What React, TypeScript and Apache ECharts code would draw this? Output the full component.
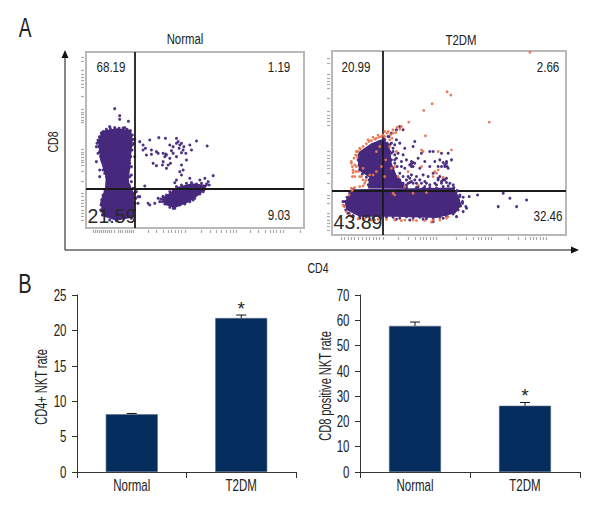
import React, { useEffect, useRef } from "react";
import * as echarts from "echarts";

const FONT = "'Liberation Sans', sans-serif";
const INK = "#222222";
const PURPLE = "#46287c";
const ORANGE = "#e8744f";
const NAVY = "#042c5c";

// Panel B values
const groups = ["Normal", "T2DM"];
const cd4Rate = [8.15, 21.75];
const cd4Err = [0.12, 0.42];
const cd4Marks = ["", "*"];
const cd4Ticks = [0, 5, 10, 15, 20, 25];
const cd8Rate = [57.8, 26.2];
const cd8Err = [1.5, 1.3];
const cd8Marks = ["", "*"];
const cd8Ticks = [0, 10, 20, 30, 40, 50, 60, 70];

// Panel A: flow cytometry channels
const normalRange = { x: [259, 912], y: [156, 684] };
const t2dmRange = { x: [67, 768], y: [94, 645] };
const normalGate = { x: 406, y: 565 };
const t2dmGate = { x: 219, y: 512 };

const normalBlobs: number[][][] = [
  [[308, 392], [350, 385], [394, 390], [399, 420], [395, 460], [391, 505], [387, 545], [403, 580], [405, 652], [350, 662], [307, 648], [303, 600], [316, 565], [318, 530], [301, 478], [295, 425]],
  [[485, 597], [510, 578], [535, 560], [575, 550], [624, 555], [602, 582], [567, 607], [525, 624], [498, 616]],
];
const normalDots: number[][] = [
  [345, 326], [360, 347], [360, 358], [386, 364], [405, 418], [420, 425], [430, 435], [437, 445], [450, 420], [477, 413], [497, 415], [530, 415], [535, 425], [545, 430], [590, 423], [622, 438],
  [455, 450], [470, 455], [490, 460], [510, 435], [520, 440], [550, 450], [558, 460], [575, 450], [570, 435], [500, 465], [495, 470], [510, 475], [460, 490], [470, 497], [490, 485], [505, 495], [500, 505],
  [545, 495], [550, 510], [540, 515], [545, 525], [530, 540], [525, 548], [570, 535], [600, 540], [615, 535], [640, 527], [625, 545], [560, 480], [520, 460], [530, 470], [445, 610], [465, 610], [475, 595],
  [435, 558], [420, 590], [415, 610], [295, 420], [290, 440], [295, 460], [290, 485], [300, 510], [300, 530], [320, 500], [390, 530], [395, 545], [375, 540], [405, 470], [402, 430], [440, 465], [455, 463],
  [430, 450], [540, 435], [552, 440], [530, 430], [538, 445], [545, 458], [515, 452], [498, 462], [475, 460], [512, 490], [488, 495], [330, 380], [375, 383], [305, 400], [300, 410], [292, 430],
  [310, 510], [315, 520], [330, 540], [340, 545], [365, 530], [375, 520], [395, 500], [410, 575], [415, 590], [305, 610], [303, 630], [490, 590], [480, 605], [450, 615], [580, 600], [610, 575], [520, 625], [540, 615],
  [310, 395], [320, 388], [332, 386], [345, 383], [358, 385], [370, 384], [382, 388], [392, 392], [398, 405], [400, 418], [398, 435], [397, 450], [393, 470], [390, 490], [388, 505],
  [305, 400], [300, 412], [296, 425], [297, 440], [300, 455], [303, 470], [307, 482], [312, 495], [316, 505], [318, 518], [320, 530], [325, 545],
  [322, 560], [316, 572], [310, 585], [306, 600], [304, 615], [305, 630], [308, 645], [400, 565], [405, 578], [408, 595], [406, 610], [404, 630], [403, 645], [395, 655], [350, 662], [330, 660],
  [380, 515], [378, 530], [384, 545], [388, 555], [395, 525], [370, 545], [360, 555],
  [483, 597], [490, 590], [500, 585], [510, 575], [520, 570], [530, 560], [545, 555], [560, 550], [575, 548], [590, 552], [605, 550], [620, 552], [628, 555], [612, 570], [600, 582], [585, 595], [570, 605], [555, 612], [525, 625], [510, 622], [495, 612], [488, 605],
];
const normalTicksX = [280, 286, 292, 298, 304, 310, 316, 322, 328, 334, 345, 355, 362, 369, 376, 383, 390, 396, 402, 445, 470, 490, 505, 515, 525, 535, 545, 555, 605, 630, 650, 665, 680, 690, 700, 710, 750, 775, 795, 810, 820, 830, 840, 850, 900];
const normalTicksY = [172, 185, 212, 222, 232, 242, 252, 262, 290, 328, 336, 344, 352, 360, 368, 448, 456, 464, 472, 480, 488, 496, 515, 545, 580, 590, 600, 610, 620, 630, 640, 650, 660];

const t2dmBand: number[][] = [[130, 508], [432, 503], [447, 530], [455, 555], [437, 580], [380, 594], [250, 590], [150, 590], [110, 570], [105, 545]];
const t2dmUpper: number[][] = [[148, 396], [185, 370], [222, 356], [240, 385], [246, 430], [262, 470], [295, 506], [175, 506], [178, 472], [148, 452], [144, 420]];
const t2dmPurpleDots: number[][] = [
  [270, 320], [280, 330], [315, 365], [310, 380], [285, 385], [270, 370], [260, 360], [250, 385], [265, 400], [280, 405], [290, 420], [305, 425], [315, 430], [310, 440], [325, 415], [335, 400],
  [360, 395], [370, 395], [395, 400], [415, 400], [425, 420], [405, 435], [415, 445], [390, 420], [375, 425], [360, 440], [345, 425], [330, 445], [340, 465], [330, 480], [345, 485], [355, 470], [370, 460],
  [385, 475], [405, 480], [395, 490], [380, 495], [360, 495], [345, 500], [325, 500], [300, 475], [305, 465], [290, 480], [270, 460], [255, 430], [245, 420], [265, 485], [255, 495], [440, 515], [450, 530], [458, 550],
  [468, 560], [478, 530], [503, 525], [580, 520], [600, 535], [650, 540], [565, 560], [620, 560], [300, 435], [305, 440], [310, 428], [260, 415], [255, 405], [250, 445], [275, 440], [280, 470], [265, 475],
  [410, 430], [412, 440], [400, 428], [395, 485], [400, 478], [410, 488], [300, 488], [295, 470], [320, 490], [245, 340], [238, 350], [260, 330], [150, 595], [180, 600], [215, 595], [260, 598], [300, 600],
  [340, 598], [370, 605], [400, 595], [440, 590], [460, 575], [470, 565], [460, 532], [100, 545], [115, 580], [130, 590], [230, 390], [245, 400], [240, 375], [255, 375], [275, 425], [285, 445], [270, 495],
  [148, 405], [145, 420], [148, 435], [150, 450], [158, 462], [170, 472], [178, 480], [176, 495], [165, 402], [180, 385], [195, 375], [210, 365], [222, 358], [235, 350], [232, 370], [240, 395], [240, 420], [242, 440], [248, 460], [255, 478], [262, 490], [272, 500], [280, 498],
  [130, 508], [120, 520], [112, 532], [106, 545], [104, 558], [108, 570], [118, 580], [130, 587], [150, 592], [170, 590], [190, 594], [210, 590], [230, 592], [250, 592], [270, 595], [290, 590], [310, 594], [330, 592], [350, 596], [370, 597], [390, 592], [410, 588], [430, 582], [445, 570], [452, 558], [458, 545], [450, 525], [442, 512], [432, 503], [415, 498], [400, 500], [380, 505], [360, 503], [340, 505], [320, 503], [290, 502],
  [225, 360], [235, 375], [245, 370], [250, 395], [240, 410], [255, 420], [262, 440], [250, 460], [258, 470], [270, 480], [280, 490], [290, 495], [400, 480], [390, 470], [410, 475], [420, 490], [430, 495], [375, 490], [385, 480], [350, 490], [335, 490], [315, 480], [320, 470], [305, 485], [310, 490], [295, 490], [305, 432], [410, 425], [405, 440], [395, 440], [385, 440],
];
const t2dmOrangeDots: number[][] = [
  [297, 307], [347, 348], [342, 272], [367, 252], [412, 216], [423, 226], [538, 307], [660, 98], [335, 390], [340, 395], [425, 390], [385, 395], [385, 450], [375, 455], [250, 340], [240, 360], [235, 335], [225, 335],
  [275, 320], [255, 440], [245, 445], [295, 455], [335, 440], [400, 472], [285, 500], [325, 495], [125, 430], [135, 470], [140, 395], [130, 450], [150, 470], [160, 480], [175, 360], [200, 355], [215, 350],
  [105, 560], [120, 585], [165, 597], [195, 600], [275, 602], [320, 602], [370, 600], [415, 590], [128, 510], [160, 498], [180, 465], [200, 455], [250, 520], [255, 525], [310, 520], [350, 518], [380, 460], [370, 470], [240, 380], [260, 395], [265, 470],
  [128, 440], [125, 425], [133, 415], [138, 405], [145, 395], [152, 388], [160, 380], [170, 372], [185, 362], [195, 358], [208, 352], [220, 345], [232, 340], [242, 345], [250, 330], [262, 322], [145, 455], [140, 440], [155, 470], [168, 482], [130, 458],
  [100, 555], [110, 575], [125, 590], [145, 597], [185, 600], [205, 598], [230, 598], [255, 600], [285, 600], [310, 600], [345, 602], [365, 606], [390, 600], [410, 594], [118, 525], [127, 512], [125, 505], [135, 503], [150, 500], [165, 490],
  [210, 380], [200, 395], [228, 420], [215, 440], [190, 465], [225, 470], [160, 445], [135, 435], [142, 410], [150, 385], [138, 455], [128, 470], [178, 365], [190, 352], [205, 346], [225, 350], [247, 355], [258, 338], [270, 328],
];
const t2dmTicksX = [95, 105, 115, 125, 135, 145, 158, 170, 180, 190, 200, 210, 220, 265, 295, 315, 330, 340, 350, 360, 370, 380, 440, 470, 490, 505, 515, 525, 535, 545, 595, 625, 645, 660, 670, 680, 690, 700, 710];
const t2dmTicksY = [115, 130, 165, 175, 185, 195, 205, 235, 275, 285, 295, 305, 315, 395, 405, 415, 425, 435, 445, 460, 490, 525, 535, 550, 580, 590, 600, 610, 620, 630];

function blobSeries(xi: number, blobs: number[][][], color: string, z: number) {
  return {
    type: "custom", xAxisIndex: xi, yAxisIndex: xi, silent: true, z,
    data: blobs.map((_, i) => i),
    renderItem: (params: any, api: any) => ({
      type: "polygon",
      shape: { points: blobs[params.dataIndex].map((p) => api.coord(p)) },
      style: { fill: color },
    }),
  };
}

function dotSeries(xi: number, data: number[][], color: string, z: number, size = 3) {
  return { type: "scatter", xAxisIndex: xi, yAxisIndex: xi, silent: true, z, data, symbolSize: size, itemStyle: { color, opacity: 0.95 } };
}

function gateSeries(xi: number, gate: { x: number; y: number }) {
  return {
    type: "line", xAxisIndex: xi, yAxisIndex: xi, silent: true, z: 8, symbol: "none", data: [],
    markLine: {
      silent: true, symbol: "none", label: { show: false },
      lineStyle: { color: "#1a1a1a", width: 1.8, type: "solid" },
      data: [{ xAxis: gate.x }, { yAxis: gate.y }],
    },
  };
}

function flowAxes(range: { x: number[]; y: number[] }, ticksX: number[], ticksY: number[], grid: number) {
  const tick = (vals: number[]) => ({ show: true, customValues: vals, length: 3, lineStyle: { color: "#aaaaaa", width: 1.2 } });
  return {
    x: { type: "value", gridIndex: grid, min: range.x[0], max: range.x[1], offset: 2, axisLine: { show: false }, axisTick: tick(ticksX), axisLabel: { show: false }, splitLine: { show: false } },
    y: { type: "value", gridIndex: grid, inverse: true, min: range.y[0], max: range.y[1], offset: 2, axisLine: { show: false }, axisTick: tick(ticksY), axisLabel: { show: false }, splitLine: { show: false } },
  };
}

function barAxes(grid: number, max: number, interval: number) {
  const line = { show: true, lineStyle: { color: "#333", width: 1 } };
  return {
    x: {
      type: "category", gridIndex: grid, data: groups, axisLine: line,
      axisTick: { show: true, length: 6, alignWithLabel: false, lineStyle: { color: "#333" } },
      axisLabel: { show: false },
    },
    y: {
      type: "value", gridIndex: grid, min: 0, max, interval,
      axisLine: line, axisTick: { show: true, length: 5, lineStyle: { color: "#333" } },
      axisLabel: { show: false }, splitLine: { show: false },
    },
  };
}

function barSeries(axis: number, values: number[]) {
  return { type: "bar", xAxisIndex: axis, yAxisIndex: axis, data: values, barWidth: 52, itemStyle: { color: NAVY, borderColor: "#5c6a7c", borderWidth: 0.6 }, silent: true };
}

function errorSeries(axis: number, values: number[], errs: number[], marks: string[]) {
  return {
    type: "custom", xAxisIndex: axis, yAxisIndex: axis, silent: true, z: 5,
    data: values.map((v, i) => [i, v, v + errs[i]]),
    renderItem: (params: any, api: any) => {
      const i = params.dataIndex;
      const base = api.coord([i, values[i]]);
      const top = api.coord([i, values[i] + errs[i]]);
      const mark = marks[i];
      const children: any[] = [
        { type: "line", shape: { x1: base[0], y1: base[1], x2: base[0], y2: top[1] }, style: { stroke: "#111", lineWidth: 1 } },
        { type: "line", shape: { x1: base[0] - 5, y1: top[1], x2: base[0] + 5, y2: top[1] }, style: { stroke: "#111", lineWidth: 1 } },
      ];
      if (mark) {
        children.push({ type: "text", style: { text: mark, x: base[0], y: top[1] + 3, align: "center", verticalAlign: "bottom", font: `19px ${FONT}`, fill: INK } });
      }
      return { type: "group", children };
    },
  };
}

function label(text: string, x: number, y: number, size = 14, scaleX = 0.8, rotation = 0, align = "center", fill = INK) {
  return { type: "text", x, y, rotation, scaleX, z: 20, style: { text, font: `${size}px ${FONT}`, fill, align, verticalAlign: "middle" } };
}

export default function App() {
  const ref = useRef<HTMLDivElement>(null);
  useEffect(() => {
    const chart = echarts.init(ref.current!, undefined, { renderer: "svg" });
    const nA = flowAxes(normalRange, normalTicksX, normalTicksY, 0);
    const tA = flowAxes(t2dmRange, t2dmTicksX, t2dmTicksY, 1);
    const b1 = barAxes(2, 25, 5);
    const b2 = barAxes(3, 70, 10);
    const gridBox = { show: true, borderColor: "#b8b8b8", borderWidth: 2, backgroundColor: "#fff" };
    chart.setOption({
      animation: false,
      backgroundColor: "#fff",
      grid: [
        { left: 86, top: 52, width: 218, height: 176, ...gridBox },
        { left: 332, top: 51, width: 234, height: 184, ...gridBox },
        { left: 77, top: 295, width: 219, height: 177 },
        { left: 360, top: 295, width: 220, height: 177 },
      ],
      xAxis: [nA.x, tA.x, b1.x, b2.x],
      yAxis: [nA.y, tA.y, b1.y, b2.y],
      series: [
        blobSeries(0, normalBlobs, PURPLE, 3),
        dotSeries(0, normalDots, PURPLE, 4),
        gateSeries(0, normalGate),
        blobSeries(1, [t2dmBand, t2dmUpper], PURPLE, 4),
        dotSeries(1, t2dmPurpleDots, PURPLE, 5),
        dotSeries(1, t2dmOrangeDots, ORANGE, 6, 2.8),
        gateSeries(1, t2dmGate),
        barSeries(2, cd4Rate),
        errorSeries(2, cd4Rate, cd4Err, cd4Marks),
        barSeries(3, cd8Rate),
        errorSeries(3, cd8Rate, cd8Err, cd8Marks),
      ],
    });

    // Axis texts are placed through the axes' own scales, and condensed like the original's face
    const axisLeft = (axis: number) => (axis === 2 ? 77 : 360);
    const axisTexts: any[] = [];
    ([[2, cd4Ticks], [3, cd8Ticks]] as [number, number[]][]).forEach(([axis, ticks]) => {
      ticks.forEach((t) => {
        axisTexts.push(label(String(t), axisLeft(axis) - 10.5, chart.convertToPixel({ yAxisIndex: axis }, t), 16, 0.72, 0, "right"));
      });
      groups.forEach((g, i) => {
        axisTexts.push(label(g, chart.convertToPixel({ xAxisIndex: axis }, i), 485, 16, 0.72));
      });
    });

    chart.setOption({
      graphic: [
        label("A", 25, 27, 28, 0.68),
        label("B", 25, 283, 28, 0.72),
        label("Normal", 185, 39, 15, 0.76),
        label("T2DM", 461, 40, 15, 0.76),
        label("68.19", 111, 67, 14, 0.83),
        label("1.19", 279, 67, 14, 0.83),
        label("9.03", 279, 215, 14, 0.83),
        label("20.99", 356, 67, 14, 0.83),
        label("2.66", 548, 67, 14, 0.83),
        label("32.46", 548, 216, 14, 0.83),
        label("21.59", 112, 216, 19.5, 1, 0, "center", "#2a2a2a"),
        label("43.89", 358, 222, 19.5, 1, 0, "center", "#2a2a2a"),
        label("CD8", 53, 142, 15, 0.7, Math.PI / 2),
        label("CD4", 318, 268, 15, 0.7),
        label("CD4+ NKT rate", 42, 387, 16, 0.69, Math.PI / 2),
        label("CD8 positive NKT rate", 326, 386, 16, 0.69, Math.PI / 2),
        ...axisTexts,
        { type: "line", z: 10, shape: { x1: 65, y1: 58, x2: 65, y2: 250 }, style: { stroke: "#111", lineWidth: 1 } },
        { type: "line", z: 10, shape: { x1: 65, y1: 250, x2: 571, y2: 250 }, style: { stroke: "#111", lineWidth: 1 } },
        { type: "polygon", z: 10, shape: { points: [[65, 50], [61.5, 58], [68.5, 58]] }, style: { fill: "#111" } },
        { type: "polygon", z: 10, shape: { points: [[571, 246.5], [571, 253.5], [579, 250]] }, style: { fill: "#111" } },
      ],
    });
    return () => chart.dispose();
  }, []);
  return <div ref={ref} style={{ width: 615, height: 525, position: "absolute", left: 0, top: 0 }} />;
}
